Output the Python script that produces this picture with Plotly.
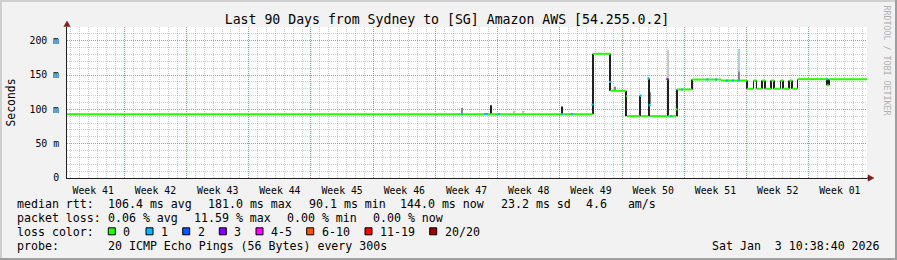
import plotly.graph_objects as go

# ---------------- data ----------------
TITLE = "Last 90 Days from Sydney to [SG] Amazon AWS [54.255.0.2]"
WEEK_LABELS = ["Week 41", "Week 42", "Week 43", "Week 44", "Week 45", "Week 46", "Week 47",
               "Week 48", "Week 49", "Week 50", "Week 51", "Week 52", "Week 01"]
FIRST_WEEK_START = -0.554   # Monday 00:00 of week 41, in days from graph start
SPAN_DAYS = 90
Y_TICKS = [0, 50, 100, 150, 200]
Y_TICK_TEXT = ["0", "50 m", "100 m", "150 m", "200 m"]

# median RTT (ms): start day of each step and its value
MED_T = [0.00, 59.15, 61.15, 62.89, 63.00, 64.45, 64.57, 65.36, 65.47, 65.58,
         67.49, 67.61, 68.51, 68.68, 70.31, 73.57, 76.50, 77.23, 77.57, 78.22,
         78.56, 79.22, 79.54, 80.27, 80.55, 81.26, 81.60, 82.18, 85.50, 85.72]
MED_V = [93.0, 181.0, 127.0, 119.0, 90.1, 120.0, 90.1, 145.0, 106.0, 90.1,
         144.0, 90.1, 100.0, 129.0, 143.5, 142.0, 130.0, 142.0, 130.0, 142.0,
         130.0, 142.0, 130.0, 142.0, 130.0, 142.0, 130.0, 144.0, 135.0, 144.0]

# smoke (ping spread) per time bucket: day, low, high, density
SMOKE_T = [44.44, 47.70, 50.29, 51.30, 55.69, 59.17, 61.09, 61.65, 62.94, 64.51,
           65.45, 65.64, 67.57, 67.60, 68.62, 70.31, 75.60, 75.60, 76.50, 77.23,
           77.57, 78.22, 78.56, 79.22, 79.54, 80.27, 80.55, 81.26, 81.60, 82.18,
           85.50, 85.72]
SMOKE_LO = [93, 93, 93, 93, 93, 93, 127, 127, 90, 90,
            90, 108, 90, 144, 90, 129, 155, 142, 130, 130,
            130, 130, 130, 130, 130, 130, 130, 130, 130, 130,
            135, 135]
SMOKE_HI = [102, 106, 98, 98, 104, 181, 181, 133, 127, 120,
            145, 125, 144, 186, 129, 143.5, 188, 155, 142, 142,
            142, 142, 142, 142, 142, 142, 142, 142, 142, 144,
            144, 144]
SMOKE_KIND = ["mid", "dense", "faint", "faint", "dense", "dense", "dense", "mid", "dense", "dense",
              "dense", "mid", "dense", "faint", "dense", "dense", "faint", "mid", "dense", "dense",
              "dense", "dense", "dense", "dense", "dense", "dense", "dense", "dense", "dense", "dense",
              "dense", "dense"]

# buckets with packet loss: day, median value, lost pings
LOSS_T = [44.44, 47.02, 47.25, 48.60, 55.69, 56.81, 59.12, 61.09, 64.52, 65.42,
          65.56, 67.55, 67.95, 69.19, 72.05, 73.01, 74.25, 74.92, 75.60, 85.53]
LOSS_V = [93, 93, 93, 93, 93, 93, 107, 140, 120, 145,
          106, 144, 90.1, 129, 143.5, 143.5, 142, 142, 142, 144]
LOSS_N = [1, 1, 1, 1, 1, 1, 1, 1, 1, 1,
          1, 3, 1, 1, 1, 1, 1, 1, 1, 1]

LOSS_CLASSES = ["0", "1", "2", "3", "4-5", "6-10", "11-19", "20/20"]
LOSS_COLORS = ["#26ff00", "#00b8ff", "#0059ff", "#7e00ff", "#ff00ff", "#ff5500", "#ff0000", "#a10000"]

LEGEND_RTT = ["median rtt:", "106.4 ms avg", "181.0 ms max", "90.1 ms min",
              "144.0 ms now", "23.2 ms sd", "4.6\u00a0\u00a0\u00a0am/s"]
LEGEND_LOSS = ["packet loss:", "0.06 % avg", "11.59 % max", "0.00 % min", "0.00 % now"]
PROBE = ["probe:", "20 ICMP Echo Pings (56 Bytes) every 300s"]
STAMP = "Sat Jan\u00a0\u00a03 10:38:40 2026"

# ---------------- layout helpers ----------------
W, H = 897, 260
L, R, T, B = 67, 30, 27, 82
PW, PH = W - L - R, H - T - B
MONO = "DejaVu Sans Mono"
MGRID = "rgba(222,79,79,0.55)"
GRID = "rgba(143,143,143,0.45)"
ARROW = "#801f1f"
AXIS = "#1f1f1f"


def px(x):
    return (x - L) / PW


def py(y):
    return (H - B - y) / PH


def loss_class(n):
    if n <= 3:
        return n
    if n <= 5:
        return 4
    if n <= 10:
        return 5
    if n <= 19:
        return 6
    return 7


fig = go.Figure()

# smoke
kind_style = {"faint": ("#c8c8c8", 0.12), "mid": ("#858585", 0.14), "dense": ("#202020", 0.11)}
for kind in ["faint", "mid", "dense"]:
    idx = [i for i, k in enumerate(SMOKE_KIND) if k == kind]
    col, wd = kind_style[kind]
    fig.add_trace(go.Bar(
        x=[SMOKE_T[i] for i in idx],
        y=[SMOKE_HI[i] - SMOKE_LO[i] for i in idx],
        base=[SMOKE_LO[i] for i in idx],
        width=wd, marker=dict(color=col, line=dict(width=0)),
        hoverinfo="skip", showlegend=False))

# median (no vertical joins)
mx, my = [], []
ends = MED_T[1:] + [SPAN_DAYS]
for t0, t1, v in zip(MED_T, ends, MED_V):
    mx += [t0, t1, None]
    my += [v, v, None]
fig.add_trace(go.Scatter(x=mx, y=my, mode="lines", line=dict(color=LOSS_COLORS[0], width=2),
                         hoverinfo="skip", showlegend=False))

# loss-coloured median bits
for c in range(1, len(LOSS_COLORS)):
    lx, ly = [], []
    for t, v, n in zip(LOSS_T, LOSS_V, LOSS_N):
        if loss_class(n) == c:
            lx += [t - 0.12, t + 0.12, None]
            ly += [v, v, None]
    if lx:
        fig.add_trace(go.Scatter(x=lx, y=ly, mode="lines", line=dict(color=LOSS_COLORS[c], width=2),
                                 hoverinfo="skip", showlegend=False))

# invisible trace carrying the week-boundary grid axis
fig.add_trace(go.Scatter(x=[0], y=[0], xaxis="x2", mode="markers", marker=dict(opacity=0),
                         hoverinfo="skip", showlegend=False))

week_centers = [FIRST_WEEK_START + 3.5 + 7 * i for i in range(len(WEEK_LABELS))]

fig.update_layout(
    width=W, height=H, autosize=False,
    margin=dict(l=L, r=R, t=T, b=B, pad=0),
    paper_bgcolor="#f2f2f2", plot_bgcolor="#ffffff",
    barmode="overlay", showlegend=False,
    font=dict(family=MONO, color="#000000"),
    title=dict(text=TITLE, x=447 / W, xref="container", xanchor="center",
               y=1 - 19 / H, yref="container", yanchor="middle",
               font=dict(family=MONO, size=13.2, color="#000000")),
    xaxis=dict(range=[0, SPAN_DAYS], tickmode="array", tickvals=week_centers, ticktext=WEEK_LABELS,
               showgrid=False, zeroline=False, showline=True, linecolor=AXIS, linewidth=1,
               ticks="", ticklabelstandoff=3,
               tickfont=dict(family=MONO, size=9.8, color="#000000"),
               minor=dict(tickmode="linear", tick0=FIRST_WEEK_START, dtick=1, showgrid=True,
                          gridcolor=GRID, griddash="1px,1px", gridwidth=1, ticks="")),
    xaxis2=dict(range=[0, SPAN_DAYS], overlaying="x", anchor="y", tickmode="linear",
                tick0=FIRST_WEEK_START, dtick=7, showgrid=True, gridcolor=MGRID,
                griddash="1px,1px", gridwidth=1, showticklabels=False, ticks="",
                zeroline=False, showline=False),
    yaxis=dict(range=[0, 220], tickmode="array", tickvals=Y_TICKS, ticktext=Y_TICK_TEXT,
               showgrid=True, gridcolor=MGRID, griddash="1px,1px", gridwidth=1,
               zeroline=False, showline=True, linecolor=AXIS, linewidth=1, ticks="",
               ticklabelstandoff=5,
               tickfont=dict(family=MONO, size=9.8, color="#000000"),
               minor=dict(tickmode="linear", tick0=0, dtick=10, showgrid=True,
                          gridcolor=GRID, griddash="1px,1px", gridwidth=1, ticks="")),
)

shapes = []
# frame (rrdtool 3D shade)
for (x0, y0, x1, y1, col) in [(0, 1, W, 1, "#cfcfcf"), (1, 0, 1, H, "#cfcfcf"),
                              (0, H - 1, W, H - 1, "#9e9e9e"), (W - 1, 0, W - 1, H, "#9e9e9e")]:
    shapes.append(dict(type="line", xref="paper", yref="paper", x0=px(x0), x1=px(x1),
                       y0=py(y0), y1=py(y1), line=dict(color=col, width=2)))
# axis arrows
shapes.append(dict(type="path", xref="paper", yref="paper",
                   path=f"M {px(67)} {py(21)} L {px(63.8)} {py(26.5)} L {px(70.2)} {py(26.5)} Z",
                   fillcolor=ARROW, line=dict(color=ARROW, width=0.5)))
shapes.append(dict(type="path", xref="paper", yref="paper",
                   path=f"M {px(874)} {py(178)} L {px(868)} {py(174.8)} L {px(868)} {py(181.2)} Z",
                   fillcolor=ARROW, line=dict(color=ARROW, width=0.5)))
shapes.append(dict(type="line", xref="paper", yref="paper", x0=px(867), x1=px(869),
                   y0=py(178), y1=py(178), line=dict(color=AXIS, width=1)))

# loss colour swatches
box_left = [108.3, 146.0, 182.7, 219.3, 256.0, 306.7, 365.0, 429.7]
label_left = [122.3, 160.0, 196.7, 233.3, 269.5, 320.7, 379.0, 443.7]
for bl, col in zip(box_left, LOSS_COLORS):
    shapes.append(dict(type="rect", xref="paper", yref="paper", x0=px(bl), x1=px(bl + 7),
                       y0=py(234.8), y1=py(227.8), fillcolor=col, line=dict(color="#000000", width=1)))
fig.update_layout(shapes=shapes)

ann = []


def txt(x, y, s, anchor="left", size=11.6, color="#000000", angle=0):
    ann.append(dict(text=s, x=px(x), y=py(y), xref="paper", yref="paper", xanchor=anchor,
                    yanchor="middle", showarrow=False, borderpad=0, textangle=angle,
                    font=dict(family=MONO, size=size, color=color)))


rtt_x = [15.5, 106.5, 206.5, 307.8, 398.5, 499.8, 585.2]
for x, s in zip(rtt_x, LEGEND_RTT):
    txt(x, 204, s)
loss_x = [15.5, 106.5, 193.3, 285.8, 371.5]
for x, s in zip(loss_x, LEGEND_LOSS):
    txt(x, 218.3, s)
txt(15.5, 231.6, "loss color:")
for x, s in zip(label_left, LOSS_CLASSES):
    txt(x, 231.6, s)
txt(15.5, 246.3, PROBE[0])
txt(106.5, 246.3, PROBE[1])
txt(880.5, 246.3, STAMP, anchor="right")
txt(10, 102.5, "Seconds", anchor="center", size=11.4, angle=-90)
txt(886.5, 60, "RRDTOOL / TOBI OETIKER", anchor="center", size=8.3, color="#b0b0b0", angle=90)
fig.update_layout(annotations=ann)

fig.write_html("out.html", config={"displayModeBar": False})
